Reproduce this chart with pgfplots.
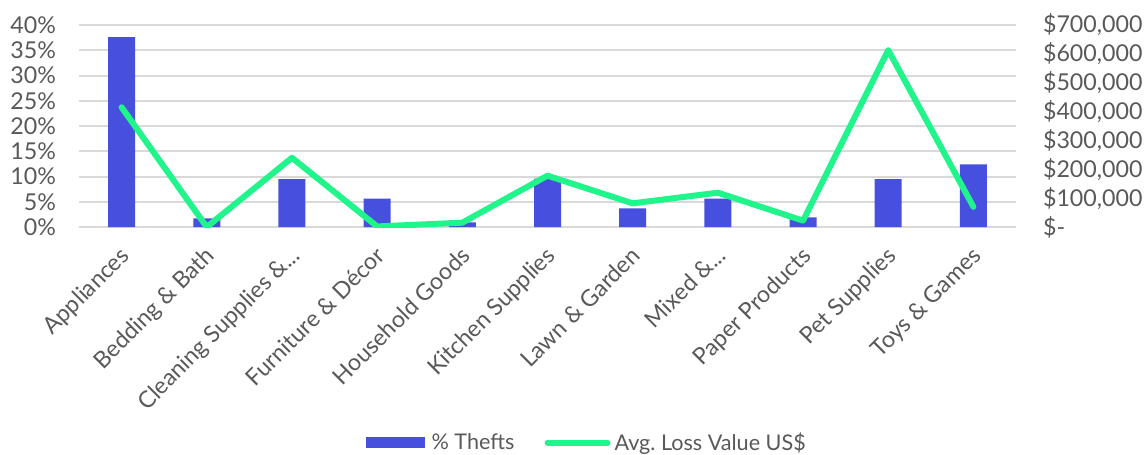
\documentclass[border=0pt]{standalone}
\usepackage{fontspec}
\setmainfont{Lato}
\usepackage{pgfplots}
\pgfplotsset{compat=1.18}
\definecolor{barblue}{RGB}{71,80,222}
\definecolor{linegreen}{RGB}{32,245,140}
\definecolor{gridgray}{RGB}{217,217,217}
\definecolor{txtgray}{RGB}{89,89,89}
\begin{document}
\begin{tikzpicture}[font=\fontsize{11.6}{13.5}\selectfont]
\useasboundingbox (-39.5pt,-114pt) rectangle (533.5pt,113.5pt);
\begin{axis}[
  at={(0,0)}, anchor=south west,
  scale only axis, width=468.5pt, height=101pt,
  xmin=-0.5, xmax=10.5, ymin=0, ymax=40,
  axis y line*=left, axis x line*=bottom,
  axis line style={draw=none},
  ytick={0,5,...,40},
  yticklabel={\pgfmathprintnumber{\tick}\%},
  yticklabel style={xshift=-8pt, text=txtgray},
  ymajorgrids, grid style={gridgray, line width=1pt},
  major tick length=0pt,
  xtick={0,1,2,3,4,5,6,7,8,9,10},
  xticklabels={Appliances, Bedding \& Bath, {Cleaning Supplies \&.{}.{}.}, Furniture \& Décor, Household Goods, Kitchen Supplies, Lawn \& Garden, {Mixed \&.{}.{}.}, Paper Products, Pet Supplies, Toys \& Games},
  xticklabel style={xshift=-1.5pt, yshift=-6pt, rotate=45, anchor=north east, inner sep=2pt, text=txtgray},
  /pgf/number format/assume math mode=true,
]
\addplot[ybar, bar width=13.5pt, fill=barblue, draw=none] coordinates {
(0,37.6) (1,1.7) (2,9.5) (3,5.6) (4,0.9) (5,9.6) (6,3.7) (7,5.6) (8,1.9) (9,9.5) (10,12.4)};
\end{axis}
\begin{axis}[
  at={(0,0)}, anchor=south west,
  scale only axis, width=468.5pt, height=101pt,
  xmin=-0.5, xmax=10.5, ymin=0, ymax=700000,
  axis y line*=right, axis x line=none,
  axis line style={draw=none},
  major tick length=0pt,
  scaled y ticks=false,
  ytick={0,100000,200000,300000,400000,500000,600000,700000},
  yticklabels={{\$-},{\$100,000},{\$200,000},{\$300,000},{\$400,000},{\$500,000},{\$600,000},{\$700,000}},
  yticklabel style={xshift=10pt, text=txtgray},
  legend style={at={(0.543,-1.068)}, anchor=center, draw=none, fill=none, legend columns=2,
    font=\fontsize{10.8}{12.5}\selectfont,
    /tikz/every even column/.append style={column sep=13pt}, text=txtgray},
  legend cell align=left,
]
\addlegendimage{legend image code/.code={\fill[barblue] (0pt,-2.5pt) rectangle (29pt,2.5pt);}}
\addlegendentry{\hspace{1.5pt}\% Thefts}
\addplot[linegreen, line width=3pt, line join=round, line cap=round,
  legend image code/.code={\draw[linegreen, line width=3pt, line cap=round] (0pt,0pt) -- (30pt,0pt);}] coordinates {
(0,415000) (1,0) (2,240000) (3,2000) (4,15000) (5,178000) (6,82000) (7,119000) (8,22000) (9,613000) (10,70000)};
\addlegendentry{Avg.\ Loss Value US\$}
\end{axis}
\end{tikzpicture}
\end{document}
